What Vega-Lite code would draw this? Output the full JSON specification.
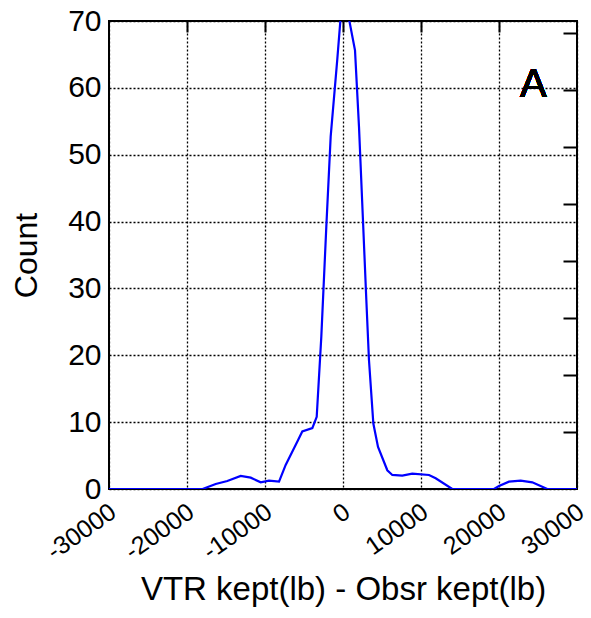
{
  "$schema": "https://vega.github.io/schema/vega-lite/v6.json",
  "width": 468,
  "height": 468,
  "autosize": "none",
  "padding": {"left": 109, "top": 21, "right": 14, "bottom": 129},
  "background": "white",
  "config": {
    "font": "Liberation Sans",
    "view": {"stroke": "black", "strokeWidth": 2},
    "axis": {
      "domain": false,
      "labelColor": "black",
      "titleColor": "black",
      "titleFontWeight": "normal",
      "gridColor": "black",
      "gridDash": [2, 2],
      "gridWidth": 1.3,
      "gridOpacity": 1,
      "tickColor": "black"
    }
  },
  "data": {
    "values": [
      {"diff": -30000, "count": 0},
      {"diff": -18000, "count": 0},
      {"diff": -16320, "count": 0.75},
      {"diff": -14830, "count": 1.2},
      {"diff": -13120, "count": 1.95},
      {"diff": -11830, "count": 1.7},
      {"diff": -10550, "count": 1.0},
      {"diff": -9490, "count": 1.25},
      {"diff": -8200, "count": 1.1},
      {"diff": -7350, "count": 3.6},
      {"diff": -5770, "count": 7.3},
      {"diff": -5220, "count": 8.6},
      {"diff": -3930, "count": 9.1},
      {"diff": -3370, "count": 10.8},
      {"diff": -2780, "count": 22.8},
      {"diff": -2140, "count": 39.2},
      {"diff": -1580, "count": 52.7},
      {"diff": -730, "count": 64.3},
      {"diff": 0, "count": 75},
      {"diff": 1540, "count": 65.6},
      {"diff": 2050, "count": 54.2},
      {"diff": 2560, "count": 40.2},
      {"diff": 2990, "count": 28.3},
      {"diff": 3330, "count": 19.3},
      {"diff": 3890, "count": 9.8},
      {"diff": 4490, "count": 6.3},
      {"diff": 5680, "count": 2.8},
      {"diff": 6320, "count": 2.1},
      {"diff": 7600, "count": 2.0},
      {"diff": 8880, "count": 2.3},
      {"diff": 11030, "count": 2.1},
      {"diff": 11880, "count": 1.6},
      {"diff": 14010, "count": 0},
      {"diff": 19360, "count": 0},
      {"diff": 20000, "count": 0.45},
      {"diff": 21280, "count": 1.1},
      {"diff": 22780, "count": 1.25},
      {"diff": 24270, "count": 1.0},
      {"diff": 26190, "count": 0},
      {"diff": 30000, "count": 0}
    ]
  },
  "layer": [
    {
      "mark": {"type": "line", "color": "#0000ff", "strokeWidth": 2.2, "clip": true},
      "encoding": {
        "x": {
          "field": "diff",
          "type": "quantitative",
          "scale": {"domain": [-30000, 30000], "nice": false, "zero": false},
          "axis": {
            "values": [-30000, -20000, -10000, 0, 10000, 20000, 30000],
            "labelExpr": "datum.value < 0 ? '-' + format(-datum.value, 'd') : format(datum.value, 'd')",
            "labelAngle": -35,
            "labelAlign": "right",
            "labelBaseline": "top",
            "labelFontSize": 25,
            "labelPadding": 10,
            "labelOffset": -3,
            "labelOverlap": false,
            "labelFlush": false,
            "ticks": false,
            "title": "VTR kept(lb) - Obsr kept(lb)",
            "titleFontSize": 33,
            "titlePadding": 9
          }
        },
        "y": {
          "field": "count",
          "type": "quantitative",
          "scale": {"domain": [0, 70], "nice": false},
          "axis": {
            "values": [0, 10, 20, 30, 40, 50, 60, 70],
            "labelFontSize": 30,
            "labelPadding": 8,
            "ticks": false,
            "title": "Count",
            "titleFontSize": 32,
            "titlePadding": 24
          }
        }
      }
    },
    {
      "mark": {"type": "text", "fontSize": 40, "fontWeight": "normal", "align": "center", "baseline": "alphabetic", "color": "black"},
      "encoding": {
        "x": {
          "datum": 24400,
          "type": "quantitative",
          "axis": {
            "orient": "top",
            "values": [-20000, -10000, 0, 10000, 20000],
            "labels": false,
            "grid": false,
            "tickSize": -11,
            "tickWidth": 2,
            "title": null
          }
        },
        "y": {
          "datum": 58.6,
          "type": "quantitative",
          "axis": {
            "orient": "right",
            "values": [8.52, 17.04, 25.56, 34.08, 42.6, 51.12, 59.64, 68.16],
            "labels": false,
            "grid": false,
            "tickSize": -14,
            "tickWidth": 2,
            "title": null
          }
        },
        "text": {"value": "A"}
      }
    }
  ],
  "resolve": {"axis": {"x": "independent", "y": "independent"}}
}
